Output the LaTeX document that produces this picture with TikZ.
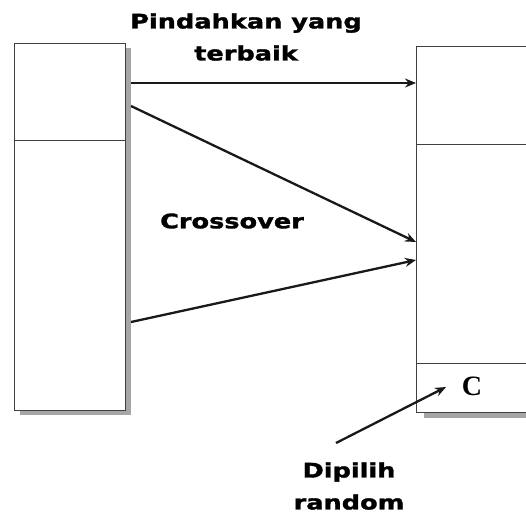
\documentclass[tikz,border=0pt]{standalone}
\usepackage{fontspec}
\setmainfont{Liberation Sans}
\newfontfamily\serifc{Liberation Serif}
\newfontfamily\blk{DejaVu Sans}[FakeStretch=1.28,FakeBold=1.6]
\usetikzlibrary{arrows.meta}
\begin{document}
\begin{tikzpicture}[x=1pt,y=-1pt,
  box/.style={draw=black!75,line width=1.2pt},
  shad/.style={fill=black!35},
  conn/.style={draw=black!90,line width=2.3pt,-{Stealth[length=11pt,width=9pt]}},
  lbl/.style={font=\blk\bfseries\fontsize{20}{32}\selectfont,align=center}]
\useasboundingbox (0,0) rectangle (526,517);
% left column
\fill[shad] (125,48) rectangle (131,415);
\fill[shad] (20,410) rectangle (131,415);
\node[box,fill=white,minimum width=111pt,minimum height=97pt,inner sep=0pt,anchor=north west] (L1) at (14,43) {};
\node[box,fill=white,minimum width=111pt,minimum height=270pt,inner sep=0pt,anchor=north west] (L2) at (14,140) {};
% right column
\fill[shad] (424,412) rectangle (530,418);
\node[box,fill=white,minimum width=120pt,minimum height=98pt,inner sep=0pt,anchor=north west] (R1) at (416,46) {};
\node[box,fill=white,minimum width=120pt,minimum height=219pt,inner sep=0pt,anchor=north west] (R2) at (416,144) {};
\node[box,fill=white,minimum width=120pt,minimum height=49pt,inner sep=0pt,anchor=north west] (R3) at (416,363) {};
\node[font=\serifc\bfseries\fontsize{28}{30}\selectfont] (C) at (472,386) {C};
% coordinates
\coordinate (a1) at (131,83);
\coordinate (b1) at (416,83);
\coordinate (a2) at (131,106);
\coordinate (b2) at (416,242);
\coordinate (a3) at (131,322);
\coordinate (b3) at (416,260);
\coordinate (a4) at (336,443);
\coordinate (b4) at (446,387);
\draw[conn] (a1) -- (b1);
\draw[conn] (a2) -- (b2);
\draw[conn] (a3) -- (b3);
\draw[conn] (a4) -- (b4);
% labels
\node[lbl] (t1) at (246,37) {Pindahkan yang\\terbaik};
\node[lbl] (t2) at (232,221) {Crossover};
\node[lbl] (t3) at (349,486) {Dipilih\\random};
\end{tikzpicture}
\end{document}
